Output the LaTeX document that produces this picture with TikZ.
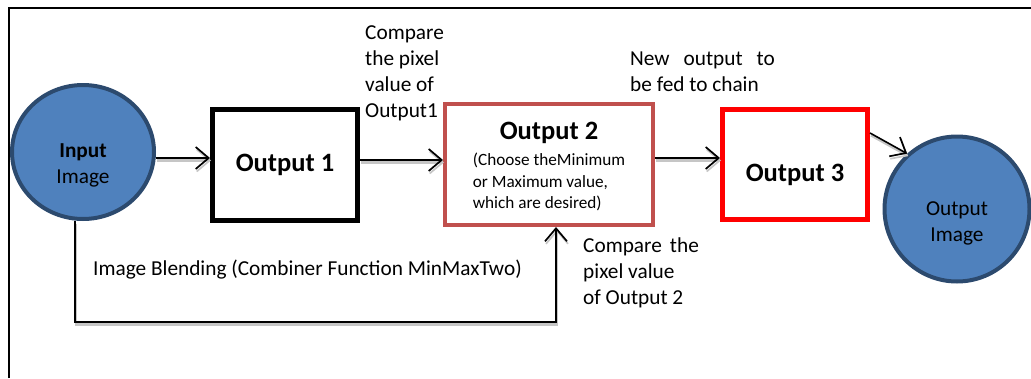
\documentclass[tikz,border=0pt]{standalone}
\usepackage{fontspec}
\setmainfont{Carlito}
\usetikzlibrary{arrows.meta,shapes.geometric,calc}
\definecolor{imgblue}{HTML}{4F81BD}
\definecolor{imgedge}{HTML}{2C4A6E}
\definecolor{brick}{HTML}{C0504D}
\tikzset{
  x=1pt,y=-1pt,
  txt/.style={font=\fontsize{21.3}{26}\selectfont,inner sep=0pt,align=left},
  ttl/.style={font=\fontsize{26.5}{30}\selectfont\bfseries},
  imgnode/.style={ellipse,draw=imgedge,fill=imgblue,line width=4pt,inner sep=0pt},
  outbox/.style={draw,fill=white,inner sep=0pt,minimum width=145,minimum height=111},
  conn/.style={line width=1.6pt,-{Straight Barb[length=13pt,width=22pt,line width=1.7pt]},
    preaction={draw=gray!45,line width=2.2pt,transform canvas={shift={(1pt,-2.5pt)}}}}
}
\begin{document}
\begin{tikzpicture}
\useasboundingbox (0,0) rectangle (1031,378);
\draw[line width=1.5pt] (9,378) |- (1031,8);

\node[imgnode,minimum width=142,minimum height=134] (in) at (83,152) {};
\node[txt,align=center] (intext) at ([yshift=-13pt]in.center) {\textbf{Input}\\Image};
\node[outbox,line width=5pt] (o1) at (285,165) {};
\node[ttl] (o1text) at (o1.center) {Output 1};
\node[outbox,draw=brick,line width=4pt,minimum width=208,minimum height=121] (o2) at (549,164.5) {};
\node[align=center,inner sep=0pt] (o2text) at ([yshift=-4pt]o2.center) {{\fontsize{26.5}{30}\selectfont\bfseries Output 2}\\[6pt]
  {\fontsize{17.2}{21.5}\selectfont\begin{tabular}{@{}l@{}}(Choose theMinimum\\or Maximum value,\\which are desired)\end{tabular}}};
\node[outbox,draw=red,line width=5pt,minimum height=110] (o3) at (795,164.5) {};
\node[ttl] (o3text) at ([yshift=-10pt]o3.center) {Output 3};
\node[imgnode,minimum size=145] (out) at (957,209) {};
\node[txt,align=center] (outtext) at ([yshift=-14pt]out.center) {Output\\Image};

% labels
\node[txt,anchor=north west] (cmp1) at (365,25) {Compare\\the pixel\\value of\\Output1};
\node[txt,anchor=north west] (feed) at (630,52) {New\hspace{14pt}output\hspace{14pt}to\\be fed to chain};
\node[txt,anchor=north west] (cmp2) at (583,238) {Compare\hspace{8pt}the\\pixel value\\of Output 2};
\node[txt,anchor=west] (blend) at (93,270) {Image Blending (Combiner Function MinMaxTwo)};

% connectors
\draw[conn] (in.east |- 0,158) -- (o1.west |- 0,158);
\draw[conn] (o1.east |- 0,160) -- (o2.west |- 0,160);
\draw[conn] (o2.east |- 0,158) -- (o3.west |- 0,158);
\draw[conn] (o3.east |- 0,133) -- (out.132);
\coordinate (low) at (75,322);
\draw[conn] (low |- in.south) -- (low) -| ([xshift=7pt]o2.south);
\end{tikzpicture}
\end{document}
